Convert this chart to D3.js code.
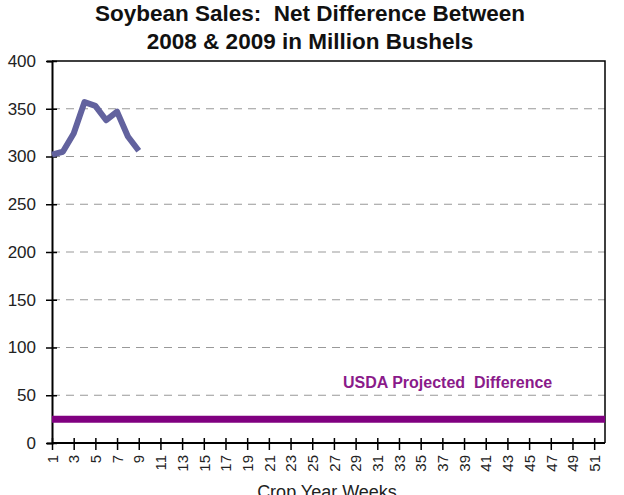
<!DOCTYPE html>
<html><head><meta charset="utf-8">
<script src="https://cdn.jsdelivr.net/npm/d3@7"></script>
<style>body{margin:0;background:#fff}svg{display:block;font-family:"Liberation Sans",Arial,sans-serif}</style>
</head><body><svg id="c" width="624" height="495"></svg>
<script>
const weeks = [1,2,3,4,5,6,7,8,9];
const netDiff = [302,305,324,357,353,338,347,321,306];
const usdaProjected = 25;
const yTicks = [0,50,100,150,200,250,300,350,400];
const xTicks = d3.range(1,52,2);
const titleLines = ["Soybean Sales:  Net Difference Between","2008 & 2009 in Million Bushels"];
const xTitle = "Crop Year Weeks";
const usdaLabel = "USDA Projected  Difference";

const svg = d3.select("#c");
const L=52,R=605,T=61,B=443;
const x = d3.scaleLinear().domain([1,52]).range([L,R]);
const y = d3.scaleLinear().domain([0,400]).range([B,T]);

svg.append("g").selectAll("text").data(titleLines).join("text")
  .attr("x",310).attr("y",(d,i)=>21+i*28).attr("text-anchor","middle")
  .attr("font-weight","bold").attr("font-size",22.5).attr("fill","#111")
  .style("white-space","pre").text(d=>d);

// grid
svg.append("g").selectAll("line").data(yTicks.filter(v=>v>0&&v<400)).join("line")
  .attr("x1",L).attr("x2",R).attr("y1",d=>y(d)).attr("y2",d=>y(d))
  .attr("stroke","#999").attr("stroke-width",1.2).attr("stroke-dasharray","8,6");

// frame top/right
svg.append("path").attr("d",`M${L},${T}H${R}V${B}`).attr("fill","none").attr("stroke","#000").attr("stroke-width",1.5);

// y axis
const ya = svg.append("g").attr("transform",`translate(${L},0)`)
  .call(d3.axisLeft(y).tickValues(yTicks).tickSize(5).tickPadding(6));
ya.select(".domain").attr("stroke","#000").attr("stroke-width",2);
ya.selectAll(".tick line").attr("stroke","#000").attr("stroke-width",1.5).attr("x2",5).attr("x1",-6);
ya.selectAll(".tick text").attr("font-size",17).attr("fill","#222").attr("font-family","Liberation Sans, Arial, sans-serif").attr("x",-16);

// x axis
const xa = svg.append("g").attr("transform",`translate(0,${B})`)
  .call(d3.axisBottom(x).tickValues(xTicks).tickSize(5).tickSizeOuter(0));
xa.select(".domain").attr("stroke","#000").attr("stroke-width",2).attr("d",`M${L},0H${R}`);
xa.selectAll(".tick line").attr("stroke","#000").attr("stroke-width",1.5).attr("y1",-5).attr("y2",7);
xa.selectAll(".tick text").attr("font-size",15).attr("fill","#222").attr("font-family","Liberation Sans, Arial, sans-serif")
  .attr("transform","rotate(-90)").attr("text-anchor","end").attr("x",-12).attr("y",0).attr("dy","0.35em");

// USDA line
svg.append("line").attr("x1",L).attr("x2",R).attr("y1",y(usdaProjected)).attr("y2",y(usdaProjected))
  .attr("stroke","#800080").attr("stroke-width",7);
svg.append("text").attr("x",343).attr("y",388).attr("font-weight","bold").attr("font-size",16)
  .attr("fill","#8a1a8a").style("white-space","pre").text(usdaLabel);

// data line
svg.append("path").datum(weeks.map((w,i)=>[w,netDiff[i]]))
  .attr("d",d3.line().x(d=>x(d[0])).y(d=>y(d[1])))
  .attr("fill","none").attr("stroke","#62629e").attr("stroke-width",6).attr("stroke-linejoin","round");

svg.append("text").attr("x",327).attr("y",498).attr("text-anchor","middle").attr("font-size",18).attr("fill","#222").text(xTitle);
</script></body></html>
